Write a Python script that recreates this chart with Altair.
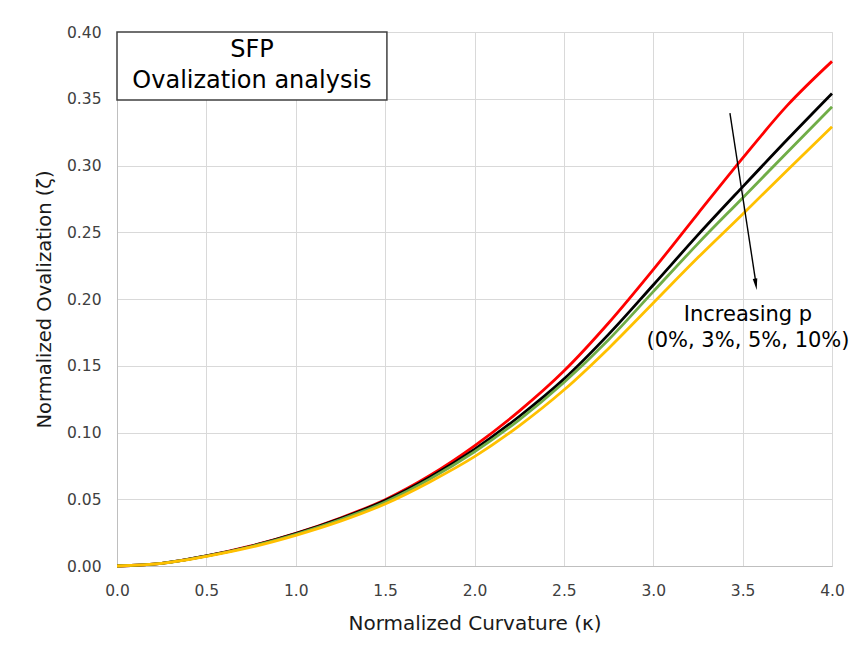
import altair as alt
import pandas as pd

# Normalized curvature values (x)
kappa = [0.0, 0.25, 0.5, 0.75, 1.0, 1.25, 1.5, 1.75, 2.0, 2.25, 2.5, 2.75, 3.0, 3.25, 3.5, 3.75, 4.0]

# Normalized ovalization per imperfection level p
zeta_p0 = [0.0, 0.0020, 0.0075, 0.0150, 0.0245, 0.0360, 0.0497, 0.0678, 0.0900, 0.1160, 0.1460, 0.1820, 0.2220, 0.2640, 0.3055, 0.3450, 0.3780]
zeta_p3 = [0.0, 0.0020, 0.0075, 0.0148, 0.0242, 0.0355, 0.0490, 0.0665, 0.0874, 0.1120, 0.1400, 0.1735, 0.2105, 0.2480, 0.2840, 0.3195, 0.3540]
zeta_p5 = [0.0, 0.0020, 0.0074, 0.0146, 0.0238, 0.0348, 0.0480, 0.0652, 0.0856, 0.1095, 0.1375, 0.1695, 0.2055, 0.2415, 0.2757, 0.3100, 0.3440]
zeta_p10 = [0.0, 0.0019, 0.0072, 0.0141, 0.0230, 0.0336, 0.0465, 0.0630, 0.0819, 0.1050, 0.1318, 0.1630, 0.1970, 0.2310, 0.2635, 0.2965, 0.3290]

series_names = ["0%", "3%", "5%", "10%"]
series_values = [zeta_p0, zeta_p3, zeta_p5, zeta_p10]
series_colors = ["#FF0000", "#000000", "#70AD47", "#FFC000"]

# Annotation box (title box) in data coordinates
box_x = [0.0]
box_x2 = [1.51]
box_y = [0.40]
box_y2 = [0.349]
box_text_x = [0.755, 0.755]
box_text_y = [0.3865, 0.3633]
box_lines = ["SFP", "Ovalization analysis"]

# Arrow annotation
arrow_x = [3.429, 3.572]
arrow_y = [0.3393, 0.2140]
arrow_tip_x = [3.574]
arrow_tip_y = [0.2110]
note_x = [3.53, 3.53]
note_y = [0.1880, 0.1685]
note_lines = ["Increasing p", "(0%, 3%, 5%, 10%)"]

FONT = "DejaVu Sans"

x_scale = alt.Scale(domain=[0, 4], nice=False, zero=False)
y_scale = alt.Scale(domain=[0, 0.4], nice=False)

x_axis = alt.Axis(
    title="Normalized Curvature (κ)", values=[0, 0.5, 1, 1.5, 2, 2.5, 3, 3.5, 4],
    format=".1f", ticks=False, labelPadding=17, titlePadding=15,
    labelFontSize=15.5, titleFontSize=20, labelColor="#404040", titleColor="#1a1a1a",
    labelFont=FONT, titleFont=FONT, titleFontWeight="normal",
    domainColor="#bfbfbf", gridColor="#d9d9d9", labelFlush=False,
)
y_axis = alt.Axis(
    title="Normalized Ovalization (ζ)",
    values=[0, 0.05, 0.1, 0.15, 0.2, 0.25, 0.3, 0.35, 0.4],
    format=".2f", ticks=False, labelPadding=16, titlePadding=12,
    labelFontSize=15.5, titleFontSize=19.5, labelColor="#404040", titleColor="#1a1a1a",
    labelFont=FONT, titleFont=FONT, titleFontWeight="normal",
    domainColor="#bfbfbf", gridColor="#d9d9d9", labelFlush=False,
)

rows = []
for name, vals in zip(series_names, series_values):
    for k, z in zip(kappa, vals):
        rows.append({"kappa": k, "zeta": z, "p": name})
df = pd.DataFrame(rows)

X = alt.X("kappa:Q", scale=x_scale, axis=x_axis)
Y = alt.Y("zeta:Q", scale=y_scale, axis=y_axis)

layers = []
for name, col in zip(series_names, series_colors):
    sub = df[df["p"] == name]
    layers.append(
        alt.Chart(sub).mark_line(color=col, strokeWidth=2.8, interpolate="monotone").encode(
            x=X, y=Y
        )
    )

box_df = pd.DataFrame({"kappa": box_x, "x2": box_x2, "zeta": box_y, "y2": box_y2})
box = alt.Chart(box_df).mark_rect(fill="white", stroke="#404040", strokeWidth=1.5).encode(
    x=X, x2="x2:Q", y=Y, y2="y2:Q",
)
box_txt_df = pd.DataFrame({"kappa": box_text_x, "zeta": box_text_y, "t": box_lines})
box_txt = alt.Chart(box_txt_df).mark_text(
    font=FONT, fontSize=24, color="#000000", align="center", baseline="middle"
).encode(x=X, y=Y, text="t:N")

arrow_df = pd.DataFrame({"kappa": arrow_x, "zeta": arrow_y})
arrow_line = alt.Chart(arrow_df).mark_line(color="#000000", strokeWidth=1.4).encode(x=X, y=Y)
tip_df = pd.DataFrame({"kappa": arrow_tip_x, "zeta": arrow_tip_y})
arrow_tip = alt.Chart(tip_df).mark_point(
    shape="M0,1 L-0.4,-1 L0.4,-1 Z", size=130, filled=True, color="#000000",
    opacity=1, angle=351.5,
).encode(x=X, y=Y)

note_df = pd.DataFrame({"kappa": note_x, "zeta": note_y, "t": note_lines})
note = alt.Chart(note_df).mark_text(
    font=FONT, fontSize=21, color="#000000", align="center", baseline="middle"
).encode(x=X, y=Y, text="t:N")

chart = alt.layer(*layers, box, box_txt, arrow_line, arrow_tip, note).properties(
    width=715, height=534,
    autosize=alt.AutoSizeParams(type="none"),
    padding={"left": 109, "top": 24, "right": 18, "bottom": 70},
).configure_view(stroke=None).configure(background="white")

chart.save("out.html", embed_options={"renderer": "svg", "actions": False})
